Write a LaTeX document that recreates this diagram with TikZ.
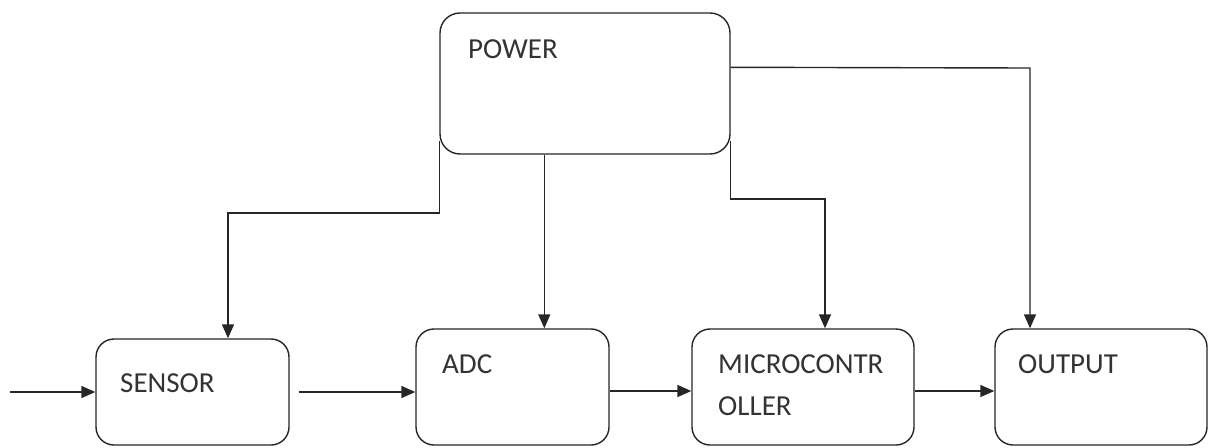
\documentclass[tikz,border=0pt]{standalone}
\usepackage{fontspec}
\setmainfont{Carlito}
\usetikzlibrary{arrows.meta}
\begin{document}
\begin{tikzpicture}[x=1pt,y=-1pt,
  blk/.style={draw=black!85, line width=1.4pt, rounded corners=18pt, inner sep=0pt, fill=white},
  lbl/.style={inner sep=0pt, anchor=base west, text=black!80, font=\fontsize{29}{34}\selectfont},
  arr/.style={draw=black!85, line width=1.4pt, -{Triangle[length=14pt,width=12pt]}}]
\useasboundingbox (0,0) rectangle (1209,447);
% boxes
\node[blk, minimum width=290pt, minimum height=141pt, rounded corners=20pt] (POWER) at (585,83.5) {};
\node[blk, minimum width=193pt, minimum height=106pt] (SENSOR) at (192.5,392) {};
\node[blk, minimum width=193pt, minimum height=116pt] (ADC) at (512.5,387) {};
\node[blk, minimum width=222pt, minimum height=116pt] (MICRO) at (803,387) {};
\node[blk, minimum width=212pt, minimum height=116pt] (OUTPUT) at (1101,387) {};
% labels
\node[lbl] (tpower) at (468,58) {POWER};
\node[lbl] (tsensor) at (120,392) {SENSOR};
\node[lbl] (tadc) at (442,373) {ADC};
\node[lbl] (tmicro1) at (718,373) {MICROCONTR};
\node[lbl] (tmicro2) at (718,415) {OLLER};
\node[lbl] (toutput) at (1018,373) {OUTPUT};
% chain
\coordinate (in) at (10,392);
\draw[arr] (in) -- (SENSOR.west);
\draw[arr] ([xshift=9pt]SENSOR.east) -- ([yshift=-5pt]ADC.west);
\draw[arr] ([yshift=-4pt]ADC.east) -- ([yshift=-4pt]MICRO.west);
\draw[arr] ([yshift=-4pt]MICRO.east) -- ([yshift=-4pt]OUTPUT.west);
% power lines
\coordinate (p1) at ([yshift=14pt]POWER.south west);
\coordinate (j1) at (228,213);
\draw[arr] (p1) |- (j1) -- (j1 |- SENSOR.north);
\coordinate (p2) at ([xshift=105pt]POWER.south west);
\draw[arr] (p2) -- (p2 |- ADC.north);
\coordinate (p3) at ([yshift=-55pt]POWER.north east);
\coordinate (j3) at (1030,68);
\draw[arr] (p3) -- (j3) -- (j3 |- OUTPUT.north);
\coordinate (p4) at ([yshift=14pt]POWER.south east);
\coordinate (j4) at (825,199);
\draw[arr] (p4) |- (j4) -- (j4 |- MICRO.north);
\end{tikzpicture}
\end{document}
